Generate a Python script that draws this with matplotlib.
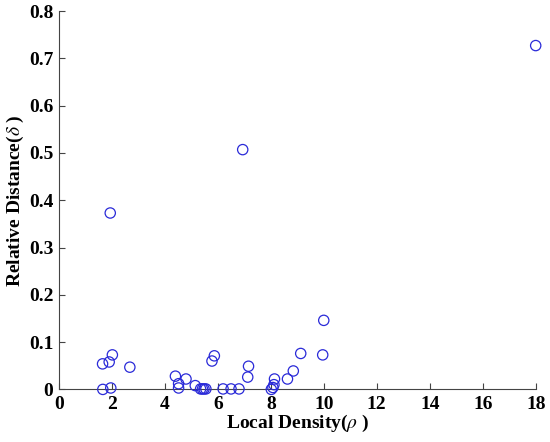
import matplotlib
matplotlib.use("Agg")
import matplotlib.pyplot as plt

rho = [1.65, 1.90, 2.02, 2.68, 1.66, 1.96, 1.94,
       4.40, 4.52, 4.52, 4.80, 5.15, 5.35, 5.42, 5.48, 5.55,
       5.78, 5.87, 6.20, 6.50, 6.80, 6.94, 7.13, 7.16,
       8.02, 8.08, 8.12, 8.14, 8.63, 8.85, 9.13, 9.96, 10.0, 18.0]
delta = [0.054, 0.058, 0.073, 0.047, 0.0, 0.003, 0.373,
         0.028, 0.012, 0.003, 0.022, 0.008, 0.001, 0.001, 0.001, 0.001,
         0.060, 0.071, 0.001, 0.001, 0.001, 0.507, 0.026, 0.049,
         0.0, 0.004, 0.010, 0.022, 0.022, 0.039, 0.076, 0.073, 0.146, 0.727]

xticks = [0, 2, 4, 6, 8, 10, 12, 14, 16, 18]
yticks = [0, 0.1, 0.2, 0.3, 0.4, 0.5, 0.6, 0.7, 0.8]
yticklabels = ["0", "0.1", "0.2", "0.3", "0.4", "0.5", "0.6", "0.7", "0.8"]

plt.rcParams['font.family'] = ['Liberation Serif', 'DejaVu Serif']
plt.rcParams['mathtext.fontset'] = 'stix'

fig = plt.figure(figsize=(5.5, 4.42), dpi=100)
ax = fig.add_axes([0.107, 0.119, 0.867, 0.856])
ax.scatter(rho, delta, s=55, facecolors='none', edgecolors='#2a2ad8', linewidths=0.9, clip_on=False, zorder=3)

ax.set_xlim(0, 18)
ax.set_ylim(0, 0.8)
ax.set_xticks(xticks)
ax.set_xticklabels([str(t) for t in xticks], fontsize=14, fontweight='bold')
ax.set_yticks(yticks)
ax.set_yticklabels(yticklabels, fontsize=14, fontweight='bold')
ax.tick_params(direction='in', length=4, width=0.8, color='#444444')
ax.tick_params(axis='x', pad=5)
ax.tick_params(axis='y', pad=4)
for s in ['top', 'right']:
    ax.spines[s].set_visible(False)
for s in ['left', 'bottom']:
    ax.spines[s].set_color('#444444')
    ax.spines[s].set_linewidth(0.8)

ax.set_xlabel(r'Local Density($\rho$ )', fontsize=14, fontweight='bold', labelpad=0)
ax.set_ylabel(r'Relative Distance($\delta$ )', fontsize=14, fontweight='bold', labelpad=2)

fig.savefig('out.png', dpi=100)
